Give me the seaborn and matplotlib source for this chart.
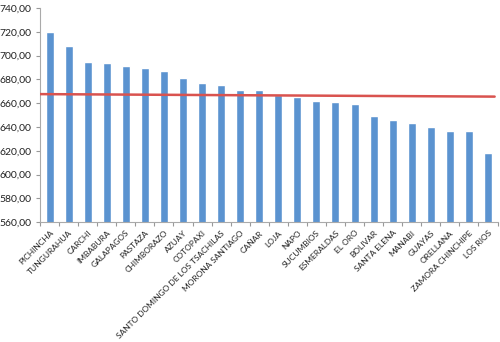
import matplotlib
matplotlib.use("Agg")
import matplotlib.pyplot as plt
import seaborn as sns
import pandas as pd
from matplotlib.ticker import FuncFormatter, FixedLocator

provinces = ["PICHINCHA", "TUNGURAHUA", "CARCHI", "IMBABURA", "GALAPAGOS", "PASTAZA",
             "CHIMBORAZO", "AZUAY", "COTOPAXI", "SANTO DOMINGO DE LOS TSACHILAS",
             "MORONA SANTIAGO", "CAÑAR", "LOJA", "NAPO", "SUCUMBIOS", "ESMERALDAS",
             "EL ORO", "BOLIVAR", "SANTA ELENA", "MANABI", "GUAYAS", "ORELLANA",
             "ZAMORA CHINCHIPE", "LOS RIOS"]
scores = [719.4, 708.4, 694.6, 693.3, 691.6, 689.3, 686.8, 680.9, 677.3, 675.6,
          671.1, 670.9, 667.0, 665.0, 662.2, 661.4, 659.7, 649.6, 645.9, 643.7,
          639.8, 637.0, 636.4, 617.9]
ref_line_x = [-0.5, 23.35]
ref_line_y = [667.6, 665.5]

sns.set_style("white")
plt.rcParams['font.family'] = ['Lato', 'DejaVu Sans']

df = pd.DataFrame({"prov": provinces, "score": scores})

fig = plt.figure(figsize=(5.0, 3.42), dpi=100)
ax = fig.add_axes([0.08, 0.35, 0.915, 0.627])

sns.barplot(data=df, x="prov", y="score", color="#5B93D0", width=0.42,
            saturation=1, ax=ax, zorder=2)
sns.lineplot(x=ref_line_x, y=ref_line_y, color="#D9534F", lw=1.8, ax=ax, zorder=3)

ax.set_ylim(560, 740)
ax.set_xlim(-0.5, len(provinces) - 0.5)
ax.set_yticks(range(560, 741, 20))
ax.yaxis.set_major_formatter(FuncFormatter(lambda v, p: f"{v:.2f}".replace(".", ",")))
ax.set_xlabel("")
ax.set_ylabel("")

ax.set_xticks(range(len(provinces)))
ax.set_xticklabels(provinces, rotation=45, ha="right", rotation_mode="anchor")
ax.tick_params(axis="x", length=0, pad=5, labelsize=6.0, labelcolor="#222222")
ax.xaxis.set_minor_locator(FixedLocator([i - 0.5 for i in range(len(provinces) + 1)]))
ax.tick_params(axis="x", which="minor", length=3, color="#999999", width=0.8, direction="out")
ax.tick_params(axis="y", length=3, color="#999999", width=0.8, direction="out",
               labelsize=7.5, labelcolor="#222222", pad=3)
ax.tick_params(bottom=True, left=True, which="both")

for s in ["top", "right"]:
    ax.spines[s].set_visible(False)
for s in ["left", "bottom"]:
    ax.spines[s].set_color("#AAAAAA")
    ax.spines[s].set_linewidth(0.8)

fig.savefig("out.png", dpi=100, facecolor="white")
